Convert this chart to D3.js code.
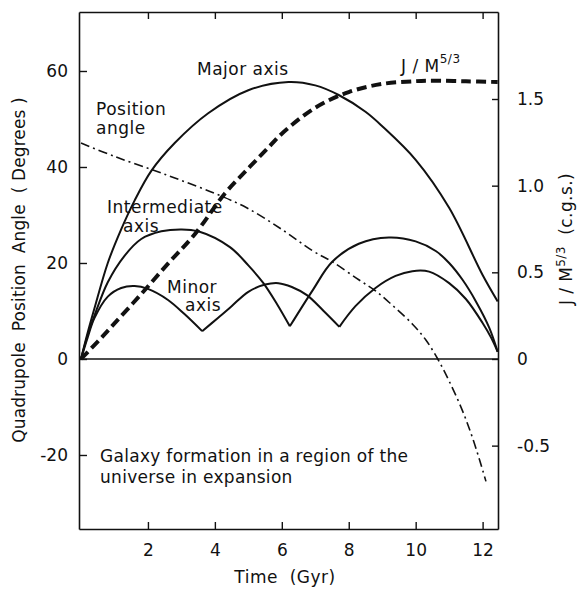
<!DOCTYPE html>
<html>
<head>
<meta charset="utf-8">
<script src="https://cdn.jsdelivr.net/npm/d3@7"></script>
<style>
  html, body { margin: 0; padding: 0; background: #fff; }
  svg text { font-family: "DejaVu Sans", sans-serif; fill: #111; white-space: pre; }
</style>
</head>
<body>
<div id="chart"></div>
<script>
// ── 1. DATA ────────────────────────────────────────────────────
// [time in Gyr, value]
const majorAxis = [
  [0, 0], [0.2, 5.5], [0.4, 10.5], [0.8, 20], [1.2, 27], [1.6, 33], [2.1, 39.2],
  [2.8, 45], [3.8, 51.2], [5.0, 56], [6.2, 57.7], [7.0, 57], [7.7, 55],
  [8.5, 51.5], [9.0, 48.5], [10.0, 41.5], [11.0, 31.5], [12.0, 17.5], [12.45, 12]
];
// intermediate axis: two arches joined at a cusp
const intermediateArch1 = [
  [0, 0], [0.2, 5], [0.4, 9], [0.8, 16], [1.3, 21.5], [1.8, 25], [2.4, 26.6],
  [3.0, 27], [3.5, 26.6], [4.45, 23.3], [5.0, 19.5], [5.45, 15.8], [5.85, 11.5], [6.24, 6.8]
];
const intermediateArch2 = [
  [6.24, 6.8], [6.93, 14.4], [7.5, 20.2], [8.3, 24], [9.2, 25.3], [10.0, 24.5],
  [10.6, 22.5], [11.0, 20], [11.4, 16.5], [11.8, 12], [12.2, 6.5], [12.45, 1.5]
];
// minor axis: three arches joined at cusps
const minorArch1 = [
  [0, 0], [0.2, 4.5], [0.4, 8.5], [0.8, 13], [1.2, 14.8], [1.6, 15.2], [2.0, 14.6],
  [2.6, 12.3], [3.1, 9.3], [3.62, 5.8]
];
const minorArch2 = [
  [3.62, 5.8], [4.1, 8.6], [4.5, 11], [5.0, 14], [5.5, 15.5], [5.9, 15.8], [6.3, 15],
  [6.75, 13.3], [7.25, 10], [7.72, 6.7]
];
const minorArch3 = [
  [7.72, 6.7], [8.2, 11], [8.8, 14.8], [9.4, 17.3], [9.9, 18.3], [10.4, 18.2],
  [11.0, 15.8], [11.5, 12.5], [12.0, 7.5], [12.25, 4.5], [12.45, 1.5]
];
// position angle (degrees, left axis)
const positionAngle = [
  [0, 45], [1, 42.2], [2.1, 39.5], [2.96, 37.3], [4.0, 34.5], [4.95, 31.5], [6.0, 27],
  [6.93, 22.5], [7.5, 20.3], [8.3, 16.5], [8.8, 14.2], [9.3, 11.2], [9.9, 7.3],
  [10.3, 4], [10.66, 0], [11.0, -4.6], [11.4, -10.8], [11.75, -17.5], [12.1, -25.5]
];
// J / M^5/3 (c.g.s., right axis)
const angularMomentum = [
  [0, 0], [0.5, 0.1], [1, 0.205], [1.8, 0.375], [2.6, 0.55], [3.4, 0.72], [4.3, 0.955],
  [5.0, 1.1], [5.6, 1.22], [6.0, 1.3], [7.0, 1.45], [8.0, 1.54], [9.0, 1.587],
  [10.0, 1.603], [10.5, 1.606], [11.5, 1.602], [12.45, 1.598]
];

const timeTicks  = [2, 4, 6, 8, 10, 12];
const angleTicks = [-20, 0, 20, 40, 60];
const jTicks     = [-0.5, 0, 0.5, 1.0, 1.5];
const jTickLabels = ["-0.5", "0", "0.5", "1.0", "1.5"];

// ── 2. DIMENSIONS ──────────────────────────────────────────────
const W = 579, H = 589;
const plot = { left: 79, right: 498, top: 12, bottom: 529 };

const svg = d3.select("#chart")
  .append("svg")
    .attr("width", W)
    .attr("height", H);

// ── 3. SCALES ──────────────────────────────────────────────────
const x  = d3.scaleLinear().domain([-0.06, 12.46]).range([plot.left, plot.right]);
const yL = d3.scaleLinear().domain([-35.42, 72.29]).range([plot.bottom, plot.top]);
const yR = d3.scaleLinear().domain([-0.981, 2.002]).range([plot.bottom, plot.top]);

// ── 4. AXES ────────────────────────────────────────────────────
const fontSize = 17;

function styleAxis(g) {
  g.selectAll("path.domain").attr("stroke", "#111").attr("stroke-width", 1.6);
  g.selectAll(".tick line").attr("stroke", "#111").attr("stroke-width", 1.4);
  g.selectAll(".tick text")
    .attr("font-size", fontSize)
    .attr("font-family", "DejaVu Sans")
    .attr("fill", "#111");
}

svg.append("g")
  .attr("transform", `translate(${plot.left},0)`)
  .call(d3.axisLeft(yL).tickValues(angleTicks).tickSizeInner(-8).tickSizeOuter(0).tickPadding(11)
    .tickFormat(d => String(d)))
  .call(styleAxis);

svg.append("g")
  .attr("transform", `translate(${plot.right},0)`)
  .call(d3.axisRight(yR).tickValues(jTicks).tickSizeInner(-6).tickSizeOuter(0).tickPadding(19)
    .tickFormat((d, i) => jTickLabels[i]))
  .call(styleAxis);

svg.append("g")
  .attr("transform", `translate(0,${plot.bottom})`)
  .call(d3.axisBottom(x).tickValues(timeTicks).tickSizeInner(-7).tickSizeOuter(0).tickPadding(15)
    .tickFormat(d => String(d)))
  .call(styleAxis);

svg.append("g")
  .attr("transform", `translate(0,${plot.top})`)
  .call(d3.axisTop(x).tickValues(timeTicks).tickSizeInner(-7).tickSizeOuter(0).tickFormat(""))
  .call(styleAxis);

// zero line across the plot
svg.append("line")
  .attr("x1", plot.left).attr("x2", plot.right)
  .attr("y1", yL(0)).attr("y2", yL(0))
  .attr("stroke", "#111").attr("stroke-width", 1.3);

// axis titles
svg.append("text")
  .attr("x", 285)
  .attr("y", 583)
  .attr("text-anchor", "middle")
  .attr("font-size", fontSize)
  .attr("letter-spacing", 0.5)
  .text("Time  (Gyr)");

svg.append("text")
  .attr("transform", "rotate(-90)")
  .attr("x", -270)
  .attr("y", 25)
  .attr("text-anchor", "middle")
  .attr("font-size", fontSize)
  .attr("letter-spacing", 0.1)
  .text("Quadrupole  Position  Angle  ( Degrees )");

const rTitle = svg.append("text")
  .attr("transform", "rotate(-90)")
  .attr("x", -239)
  .attr("y", 572)
  .attr("text-anchor", "middle")
  .attr("font-size", fontSize)
  .attr("letter-spacing", 0.4);
rTitle.append("tspan").text("J / M");
rTitle.append("tspan").attr("dy", -7).attr("font-size", 12).text("5/3");
rTitle.append("tspan").attr("dy", 7).text("  (c.g.s.)");

// ── 5. CURVES ──────────────────────────────────────────────────
svg.append("clipPath").attr("id", "plot-clip")
  .append("rect")
    .attr("x", plot.left).attr("y", plot.top)
    .attr("width", plot.right - plot.left).attr("height", plot.bottom - plot.top);

const curves = svg.append("g").attr("clip-path", "url(#plot-clip)");

const lineDeg = d3.line()
  .x(d => x(d[0]))
  .y(d => yL(d[1]))
  .curve(d3.curveCatmullRom.alpha(0.5));

const lineJ = d3.line()
  .x(d => x(d[0]))
  .y(d => yR(d[1]))
  .curve(d3.curveCatmullRom.alpha(0.5));

const solidSeries = [majorAxis, intermediateArch1, intermediateArch2, minorArch1, minorArch2, minorArch3];

curves.selectAll(".axis-line")
  .data(solidSeries)
  .join("path")
    .attr("class", "axis-line")
    .attr("d", lineDeg)
    .attr("fill", "none")
    .attr("stroke", "#111")
    .attr("stroke-width", 2);

curves.append("path")
  .datum(positionAngle)
  .attr("d", lineDeg)
  .attr("fill", "none")
  .attr("stroke", "#111")
  .attr("stroke-width", 1.6)
  .attr("stroke-dasharray", "9,4,2,4");

curves.append("path")
  .datum(angularMomentum)
  .attr("d", lineJ)
  .attr("fill", "none")
  .attr("stroke", "#111")
  .attr("stroke-width", 4)
  .attr("stroke-dasharray", "10,5");

// ── 6. LABELS ──────────────────────────────────────────────────
function label(px, py, str, ls = 0.5) {
  return svg.append("text")
    .attr("x", px).attr("y", py)
    .attr("font-size", fontSize)
    .attr("letter-spacing", ls)
    .text(str);
}

label(197, 75, "Major axis");
label(96, 115, "Position");
label(96, 134, "angle");
label(107, 213, "Intermediate");
label(123, 232, "axis");
label(167, 293, "Minor");
label(185, 311, "axis");
label(100, 462, "Galaxy formation in a region of the", 0.3);
label(100, 483, "universe in expansion", 0.3);

const jLabel = svg.append("text")
  .attr("x", 401).attr("y", 72)
  .attr("font-size", fontSize)
  .attr("letter-spacing", 0.5);
jLabel.append("tspan").text("J / M");
jLabel.append("tspan").attr("dy", -9).attr("font-size", 12).text("5/3");
</script>
</body>
</html>
